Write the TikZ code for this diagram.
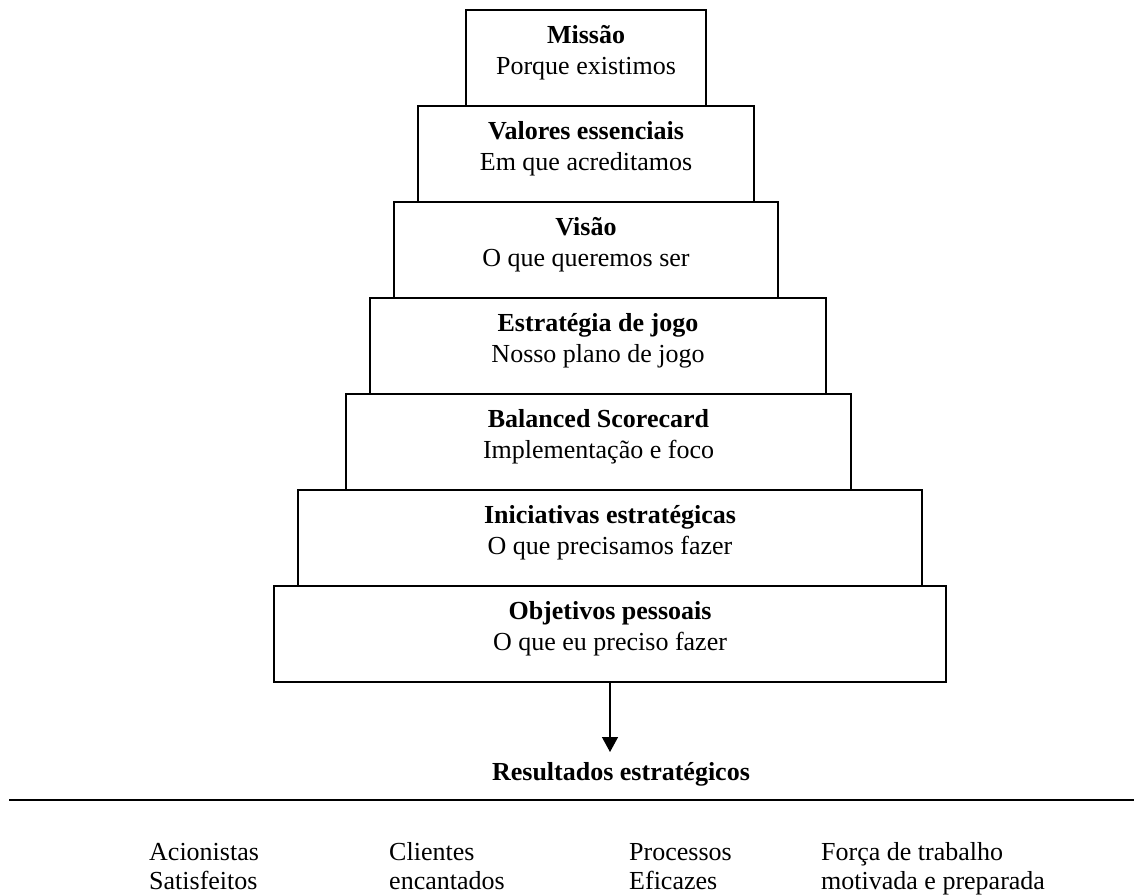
\documentclass[tikz,border=0pt]{standalone}
\usepackage{fontspec}
\setmainfont{Liberation Serif}
\usetikzlibrary{arrows.meta}
\begin{document}
\begin{tikzpicture}[x=1pt,y=-1pt,
  tier/.style={draw=black, line width=1.6pt, minimum height=96pt, inner sep=0pt, anchor=north},
  ttl/.style={anchor=base, inner sep=0pt, font=\fontsize{26}{31}\selectfont\bfseries},
  sub/.style={anchor=base, inner sep=0pt, font=\fontsize{26}{31}\selectfont},
  res/.style={anchor=base west, inner sep=0pt, font=\fontsize{26}{31}\selectfont}]
\useasboundingbox (0,0) rectangle (1134,895);
% tiers
\node[tier, minimum width=240pt] (t1) at (586,9) {};
\node[tier, minimum width=336pt] (t2) at (586,105) {};
\node[tier, minimum width=384pt] (t3) at (586,201) {};
\node[tier, minimum width=456pt] (t4) at (598,297) {};
\node[tier, minimum width=505pt] (t5) at (598.5,393) {};
\node[tier, minimum width=624pt] (t6) at (610,489) {};
\node[tier, minimum width=672pt] (t7) at (610,585) {};
% texts
\node[ttl] (t1a) at (586,43) {Missão};
\node[sub] (t1b) at (586,74) {Porque existimos};
\node[ttl] (t2a) at (586,139) {Valores essenciais};
\node[sub] (t2b) at (586,170) {Em que acreditamos};
\node[ttl] (t3a) at (586,235) {Visão};
\node[sub] (t3b) at (586,266) {O que queremos ser};
\node[ttl] (t4a) at (598,331) {Estratégia de jogo};
\node[sub] (t4b) at (598,362) {Nosso plano de jogo};
\node[ttl] (t5a) at (598.5,427) {Balanced Scorecard};
\node[sub] (t5b) at (598.5,458) {Implementação e foco};
\node[ttl] (t6a) at (610,523) {Iniciativas estratégicas};
\node[sub] (t6b) at (610,554) {O que precisamos fazer};
\node[ttl] (t7a) at (610,619) {Objetivos pessoais};
\node[sub] (t7b) at (610,650) {O que eu preciso fazer};
% arrow
\coordinate (tip) at (610,752);
\draw[line width=1.4pt, -{Triangle[length=15pt,width=16pt]}] (t7.south) -- (tip);
\node[ttl] (result) at (621,780) {Resultados estratégicos};
% rule
\coordinate (ruleL) at (9,800);
\coordinate (ruleR) at (1134,800);
\draw[line width=2pt] (ruleL) -- (ruleR);
% results
\node[res] (r1a) at (149,860) {Acionistas};
\node[res] (r1b) at (149,889) {Satisfeitos};
\node[res] (r2a) at (389,860) {Clientes};
\node[res] (r2b) at (389,889) {encantados};
\node[res] (r3a) at (629,860) {Processos};
\node[res] (r3b) at (629,889) {Eficazes};
\node[res] (r4a) at (821,860) {Força de trabalho};
\node[res] (r4b) at (821,889) {motivada e preparada};
\end{tikzpicture}
\end{document}
